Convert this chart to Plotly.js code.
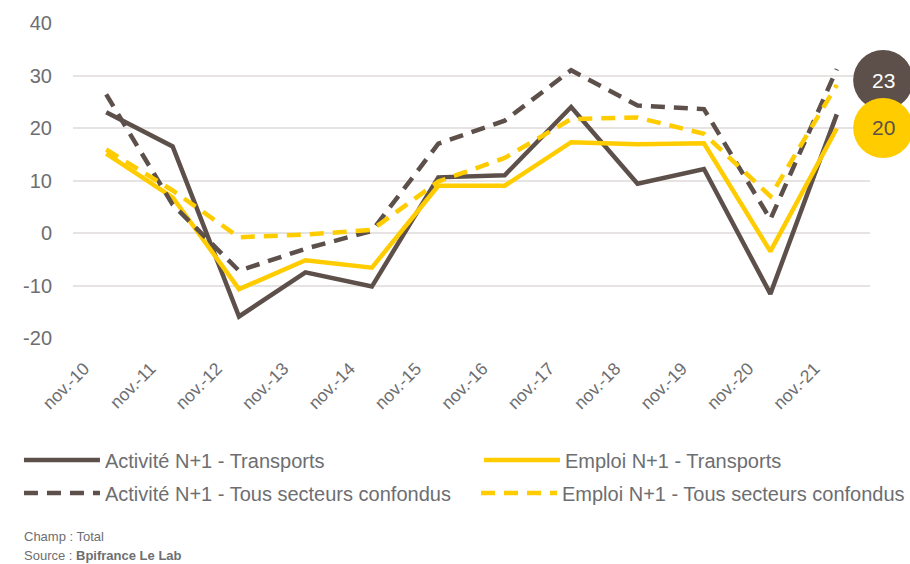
<!DOCTYPE html>
<html>
<head>
<meta charset="utf-8">
<script src="https://cdn.plot.ly/plotly-3.0.1.min.js"></script>
<style>html,body{margin:0;padding:0;background:#fff;}#chart{width:910px;height:564px;}</style>
</head>
<body>
<div id="chart"></div>
<script>
const categories = ["nov.-10","nov.-11","nov.-12","nov.-13","nov.-14","nov.-15","nov.-16","nov.-17","nov.-18","nov.-19","nov.-20","nov.-21"];
const activiteTransports = [23.0, 16.5, -15.9, -7.5, -10.2, 10.6, 11.0, 24.0, 9.4, 12.2, -11.6, 22.6];
const activiteTous = [26.4, 5.4, -7.2, -3.0, 0.4, 17.0, 21.4, 31.0, 24.3, 23.6, 2.6, 31.2];
const emploiTransports = [15.1, 6.8, -10.7, -5.2, -6.6, 9.0, 9.0, 17.3, 16.9, 17.1, -3.5, 19.9];
const emploiTous = [15.9, 8.1, -0.8, -0.3, 0.6, 9.8, 14.3, 21.7, 22.0, 18.9, 7.0, 28.2];
const seriesNames = ["Activité N+1 - Transports","Emploi N+1 - Transports","Activité N+1 - Tous secteurs confondus","Emploi N+1 - Tous secteurs confondus"];
const badgeLabels = ["23","20"];
const yTicks = [-20,-10,0,10,20,30,40];
const yTickText = ["-20","-10","0","10","20","30","40"];

const DARK = "#5d504b";
const YELLOW = "#ffcc00";
const GREY = "#6d6e71";
const FONT = "'Liberation Sans', Arial, sans-serif";

const traces = [
  {x: categories, y: activiteTransports, name: seriesNames[0], type: "scatter", mode: "lines", legend: "legend", line: {color: DARK, width: 4.5}},
  {x: categories, y: emploiTransports, name: seriesNames[1], type: "scatter", mode: "lines", legend: "legend2", line: {color: YELLOW, width: 4.5}},
  {x: categories, y: activiteTous, name: seriesNames[2], type: "scatter", mode: "lines", legend: "legend3", line: {color: DARK, width: 4.5, dash: "14px,9px"}},
  {x: categories, y: emploiTous, name: seriesNames[3], type: "scatter", mode: "lines", legend: "legend4", line: {color: YELLOW, width: 4.5, dash: "14px,9px"}}
];

const legendBase = {
  orientation: "v", yref: "container", yanchor: "top", xanchor: "left",
  itemwidth: 76, traceorder: "normal",
  font: {family: FONT, size: 20, color: GREY}, bgcolor: "rgba(0,0,0,0)"
};
const COL1 = -0.0678, COL2 = 0.5094, ROW1 = 0.219, ROW2 = 0.1605;

const layout = {
  width: 910, height: 564,
  margin: {l: 73, r: 40, t: 23, b: 226},
  paper_bgcolor: "#fff", plot_bgcolor: "#fff",
  font: {family: FONT, color: GREY, size: 20},
  showlegend: true,
  legend: Object.assign({}, legendBase, {x: COL1, y: ROW1}),
  legend2: Object.assign({}, legendBase, {x: COL2, y: ROW1}),
  legend3: Object.assign({}, legendBase, {x: COL1, y: ROW2}),
  legend4: Object.assign({}, legendBase, {x: COL2, y: ROW2}),
  xaxis: {
    type: "category", range: [-0.5, 11.5], showgrid: false, zeroline: false, showline: false,
    tickangle: -45, tickfont: {family: FONT, size: 17.5, color: GREY}, ticks: "",
    ticklabelshift: -22, ticklabelstandoff: 16, fixedrange: true
  },
  yaxis: {
    range: [-20, 40], tickvals: yTicks, ticktext: yTickText, showgrid: true, gridcolor: "#e7e3e3", gridwidth: 2,
    zeroline: false, showline: false, ticks: "", ticklabelstandoff: 20,
    tickfont: {family: FONT, size: 20, color: GREY}, fixedrange: true
  },
  shapes: [
    {type: "circle", xref: "paper", yref: "paper", xsizemode: "pixel", ysizemode: "pixel",
     xanchor: 1.0165, yanchor: 0.8190, x0: -30, x1: 30, y0: -30, y1: 30, fillcolor: DARK, line: {width: 0}},
    {type: "circle", xref: "paper", yref: "paper", xsizemode: "pixel", ysizemode: "pixel",
     xanchor: 1.0165, yanchor: 0.6667, x0: -30, x1: 30, y0: -30, y1: 30, fillcolor: YELLOW, line: {width: 0}}
  ],
  annotations: [
    {xref: "paper", yref: "paper", x: 1.0165, y: 0.8190, text: badgeLabels[0], showarrow: false,
     font: {family: FONT, size: 21, color: "#ffffff"}, xanchor: "center", yanchor: "middle"},
    {xref: "paper", yref: "paper", x: 1.0165, y: 0.6667, text: badgeLabels[1], showarrow: false,
     font: {family: FONT, size: 21, color: DARK}, xanchor: "center", yanchor: "middle"},
    {xref: "paper", yref: "paper", x: -0.064, y: -0.629, text: "Champ : Total", showarrow: false,
     xanchor: "left", yanchor: "middle", font: {family: FONT, size: 13, color: GREY}},
    {xref: "paper", yref: "paper", x: -0.064, y: -0.69, text: "Source : <b>Bpifrance Le Lab</b>", showarrow: false,
     xanchor: "left", yanchor: "middle", font: {family: FONT, size: 13, color: GREY}}
  ]
};

Plotly.newPlot("chart", traces, layout, {displayModeBar: false, staticPlot: true});
</script>
</body>
</html>
